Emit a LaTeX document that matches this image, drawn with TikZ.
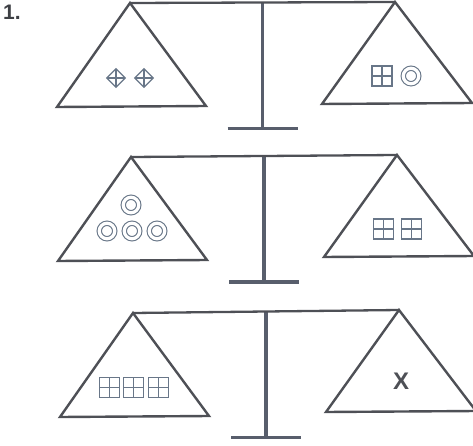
\documentclass[tikz,border=0pt]{standalone}
\usepackage{fontspec}
\newfontfamily\labelfont{Liberation Sans}
\usepackage{tikz}
\usetikzlibrary{positioning,calc,shapes.geometric}
\definecolor{Xline}{RGB}{78,80,86}
\definecolor{Xpost}{RGB}{88,94,108}
\definecolor{Xsym}{RGB}{104,118,136}
\tikzset{
  pan/.style={draw=Xline, line width=2.4pt, line join=miter},
  beam/.style={draw=Xline, line width=2.3pt},
  post/.style={draw=Xpost, line width=3.2pt},
  footbar/.style={draw=Xpost, line width=3.8pt},
  gem/.style={diamond, draw=Xsym, line width=1.1pt, minimum size=19pt, inner sep=0pt,
    path picture={\draw[Xsym, line width=1.1pt] (path picture bounding box.north) -- (path picture bounding box.south)
      (path picture bounding box.west) -- (path picture bounding box.east);}},
  window/.style={rectangle, draw=Xsym, line width=1.1pt, minimum size=20pt, inner sep=0pt,
    path picture={\draw[Xsym, line width=1.1pt] (path picture bounding box.north) -- (path picture bounding box.south)
      (path picture bounding box.west) -- (path picture bounding box.east);}},
  ring/.style={circle, draw=Xsym, line width=1.1pt, double=white, double distance=3.2pt, minimum size=15.5pt, inner sep=0pt}
}
\begin{document}
\begin{tikzpicture}[x=1pt, y=-1pt]
  \useasboundingbox (0,0) rectangle (473,446);
  \node[anchor=base west, inner sep=0pt, font=\labelfont\bfseries\fontsize{21pt}{21pt}\selectfont, text=Xline!80!black] (num) at (3,20) {1.};

  % the three balances
  \foreach \i/\lx/\ly/\rx/\ry in {1/130/3/395/2, 2/131/157/397/155, 3/133/313/399/310} {
    \coordinate (L\i) at (\lx,\ly);
    \coordinate (R\i) at (\rx,\ry);
    \coordinate (top\i) at ($(L\i)!0.5!(R\i)$);
    \coordinate (foot\i) at ($(top\i)+(0,126)$);
    \draw[post] (top\i) -- (foot\i);
    \draw[footbar] ($(foot\i)+(-35,0)$) -- ($(foot\i)+(35,0)$);
    \draw[pan] (L\i) -- ++(-73,104) -- ++(149,-1) -- cycle;
    \draw[pan] (R\i) -- ++(-73,102) -- ++(150,-1) -- cycle;
    \draw[beam] (L\i) -- (R\i);
  }

  % first balance
  \node[gem] (g1) at (116,78) {};
  \node[gem] (g2) at (144,78) {};
  \node[window] (w1) at (382,76) {};
  \node[ring] (r1) at (411,76) {};

  % second balance
  \node[ring] (r2) at (131,205) {};
  \node[ring] (r3) at (107,231) {};
  \node[ring] (r4) at (132,231) {};
  \node[ring] (r5) at (157,231) {};
  \node[window] (w2) at (383.5,229) {};
  \node[window] (w3) at (411.5,229) {};

  % third balance
  \node[window] (w4) at (109.5,387.5) {};
  \node[window] (w5) at (133.5,387.5) {};
  \node[window] (w6) at (158.5,387.5) {};
  \node[font=\labelfont\bfseries\fontsize{24pt}{24pt}\selectfont, text=Xline] (x) at (401,381) {X};
\end{tikzpicture}
\end{document}
